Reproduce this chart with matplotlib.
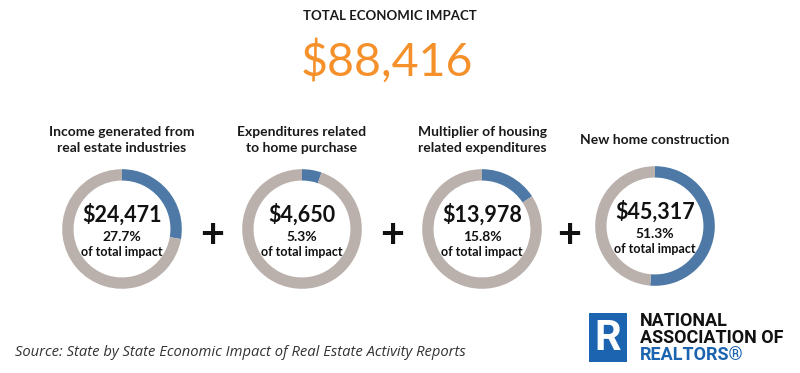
import matplotlib
matplotlib.use("Agg")
import matplotlib.pyplot as plt
from matplotlib.patches import Rectangle

# --- data ---
total_label = "TOTAL ECONOMIC IMPACT"
total_amount = 88416
categories = [
    "Income generated from\nreal estate industries",
    "Expenditures related\nto home purchase",
    "Multiplier of housing\nrelated expenditures",
    "New home construction",
]
amounts = [24471, 4650, 13978, 45317]
shares = [27.7, 5.3, 15.8, 51.3]
source = "Source: State by State Economic Impact of Real Estate Activity Reports"

BLUE = "#4E79A7"
GREY = "#BAB0AC"
ORANGE = "#F5902A"
NAR_BLUE = "#1C64B0"
W, H = 800, 373

plt.rcParams["font.family"] = ["Lato", "DejaVu Sans"]


def px(x, y):
    """pixel coords (origin top-left) -> figure fraction"""
    return x / W, 1 - y / H


fig = plt.figure(figsize=(W / 100, H / 100), dpi=100)
fig.patch.set_facecolor("white")

fig.text(*px(390, 16), total_label, ha="center", va="center",
         fontsize=9.5, fontweight="bold", color="#1a1a1a")
fig.text(*px(387, 61), f"${total_amount:,}", ha="center", va="center",
         fontsize=33.5, color=ORANGE)

centers_x = [122, 302, 482, 655]
centers_y = [229, 229, 229, 226]
radius = 61

for i, (cat, amt, share) in enumerate(zip(categories, amounts, shares)):
    cx, cy = centers_x[i], centers_y[i]
    ax = fig.add_axes([(cx - radius) / W, (H - cy - radius) / H,
                       2 * radius / W, 2 * radius / H])
    ax.pie([share, 100 - share], startangle=90, counterclock=False,
           colors=[BLUE, GREY], radius=1.0,
           wedgeprops=dict(width=0.19, linewidth=0))
    ax.set_xlim(-1.02, 1.02)
    ax.set_ylim(-1.02, 1.02)
    ax.set_aspect("equal")
    ax.axis("off")

    fig.text(*px(cx, 140), cat, ha="center", va="center", fontsize=10,
             fontweight="bold", color="#1a1a1a", linespacing=1.3)

    fig.text(*px(cx, cy - 14), f"${amt:,}", ha="center", va="center",
             fontsize=15.5, fontweight="bold", color="#111111")
    fig.text(*px(cx, cy + 8), f"{share}%", ha="center", va="center",
             fontsize=10, fontweight="bold", color="#111111")
    fig.text(*px(cx, cy + 23), "of total impact", ha="center", va="center",
             fontsize=9, fontweight="bold", color="#111111")

for x in [212, 392, 569]:
    fig.text(*px(x, 236), "+", ha="center", va="center", fontsize=30,
             fontweight="bold", color="#111111")

fig.text(*px(15, 353), source, ha="left", va="center", fontsize=10.6,
         style="italic", color="#333333", family=["Open Sans", "DejaVu Sans"])

# NAR logo
fig.patches.append(Rectangle(px(589, 362), 38 / W, 49 / H, transform=fig.transFigure,
                             facecolor=NAR_BLUE, edgecolor="none"))
fig.text(*px(608, 338), "R", ha="center", va="center", fontsize=30,
         fontweight="bold", color="white", family=["Roboto", "DejaVu Sans"])
for j, (line, col) in enumerate([("NATIONAL", "#111111"),
                                 ("ASSOCIATION OF", "#111111"),
                                 ("REALTORS®", NAR_BLUE)]):
    fig.text(*px(640, 321 + 17 * j), line, ha="left", va="center",
             fontsize=13, fontweight="bold", color=col,
             family=["Roboto", "DejaVu Sans"])

fig.savefig("out.png", dpi=100, facecolor="white")
